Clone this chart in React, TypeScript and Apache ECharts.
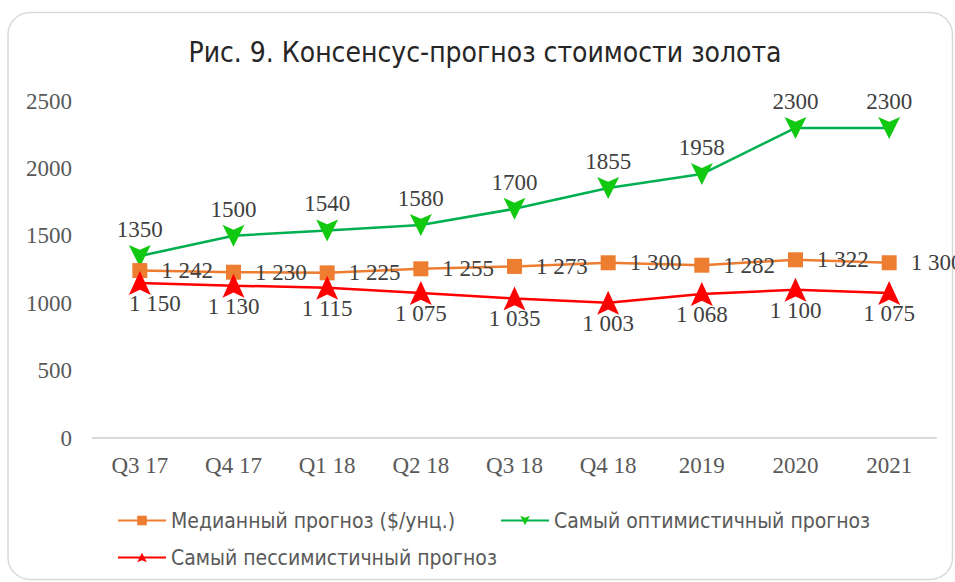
import React, { useEffect, useRef } from "react";
import * as echarts from "echarts";

const categories = ["Q3 17", "Q4 17", "Q1 18", "Q2 18", "Q3 18", "Q4 18", "2019", "2020", "2021"];
const medianValues = [1242, 1230, 1225, 1255, 1273, 1300, 1282, 1322, 1300];
const optimisticValues = [1350, 1500, 1540, 1580, 1700, 1855, 1958, 2300, 2300];
const pessimisticValues = [1150, 1130, 1115, 1075, 1035, 1003, 1068, 1100, 1075];
const yTicks = [0, 500, 1000, 1500, 2000, 2500];

const titleText = "Рис. 9. Консенсус-прогноз стоимости золота";
const seriesNames = ["Медианный прогноз ($/унц.)", "Самый оптимистичный прогноз", "Самый пессимистичный прогноз"];

const fmtSpace = (v: number) => {
  const s = String(Math.round(v));
  return s.replace(/\B(?=(\d{3})+(?!\d))/g, " ");
};

const SERIF = "'Liberation Serif', 'DejaVu Serif', serif";
const NARROW = "'DejaVu Sans Condensed', 'Noto Sans', sans-serif";
const UP_ARROW = "path://M5,0 L10,10 L5,7.8 L0,10 Z";
const DOWN_ARROW = "path://M0,0 L5,2.2 L10,0 L5,10 Z";

export default function App() {
  const ref = useRef<HTMLDivElement>(null);
  useEffect(() => {
    document.body.style.margin = "0";
    if (!ref.current) return;
    const chart = echarts.init(ref.current, null, { renderer: "svg" });
    const labelBase = { show: true, fontFamily: SERIF, fontSize: 23, color: "#404040" };
    const legendText = { fontFamily: NARROW, fontSize: 21, color: "#595959" };
    chart.setOption({
      animation: false,
      backgroundColor: "#ffffff",
      graphic: [
        {
          type: "rect",
          shape: { x: 8, y: 12.5, width: 944.5, height: 567, r: 22 },
          style: { fill: "none", stroke: "#d9d9d9", lineWidth: 1.5 },
          z: -1,
        },
      ],
      title: {
        text: titleText,
        left: 480,
        textAlign: "center",
        top: 33,
        textStyle: { fontFamily: NARROW, fontSize: 28, fontWeight: "normal", color: "#262626" },
      },
      legend: [
        {
          data: [seriesNames[0], seriesNames[1]],
          left: 112,
          top: 505,
          itemWidth: 48,
          itemHeight: 12,
          itemGap: 45,
          textStyle: legendText,
        },
        {
          data: [seriesNames[2]],
          left: 112,
          top: 542,
          itemWidth: 48,
          itemHeight: 12,
          textStyle: legendText,
        },
      ],
      grid: { left: 93, right: 19, top: 101, bottom: 144, containLabel: false },
      xAxis: {
        type: "category",
        data: categories,
        boundaryGap: true,
        axisLine: { show: true, lineStyle: { color: "#d9d9d9", width: 2 } },
        axisTick: { show: false },
        axisLabel: { fontFamily: SERIF, fontSize: 23, color: "#595959", margin: 16 },
      },
      yAxis: {
        type: "value",
        min: yTicks[0],
        max: yTicks[yTicks.length - 1],
        interval: 500,
        splitLine: { show: false },
        axisLine: { show: false },
        axisTick: { show: false },
        axisLabel: { fontFamily: SERIF, fontSize: 23, color: "#595959", margin: 21, formatter: (v: number) => String(v) },
      },
      series: [
        {
          name: seriesNames[0],
          type: "line",
          data: medianValues,
          color: "#ED7D31",
          lineStyle: { color: "#ED7D31", width: 2.5 },
          symbol: "rect",
          symbolSize: 15,
          itemStyle: { color: "#ED7D31" },
          label: { ...labelBase, position: "right", distance: 14, formatter: (p: any) => fmtSpace(p.value) },
          z: 3,
        },
        {
          name: seriesNames[1],
          type: "line",
          data: optimisticValues,
          color: "#00B050",
          lineStyle: { color: "#00B050", width: 2.5 },
          symbol: DOWN_ARROW,
          symbolSize: [22, 22],
          itemStyle: { color: "#12c912" },
          label: { ...labelBase, position: "top", distance: 4, formatter: (p: any) => String(p.value) },
          z: 2,
        },
        {
          name: seriesNames[2],
          type: "line",
          data: pessimisticValues.map((v, i) => (i === 0 ? { value: v, label: { offset: [15, 0] } } : v)),
          color: "#FF0000",
          lineStyle: { color: "#FF0000", width: 2.5 },
          symbol: UP_ARROW,
          symbolSize: [22, 24],
          itemStyle: { color: "#FF0000" },
          label: { ...labelBase, position: "bottom", distance: -3, formatter: (p: any) => fmtSpace(p.value) },
          z: 4,
        },
      ],
    });
    return () => chart.dispose();
  }, []);
  return <div ref={ref} style={{ width: 955, height: 582 }} />;
}
